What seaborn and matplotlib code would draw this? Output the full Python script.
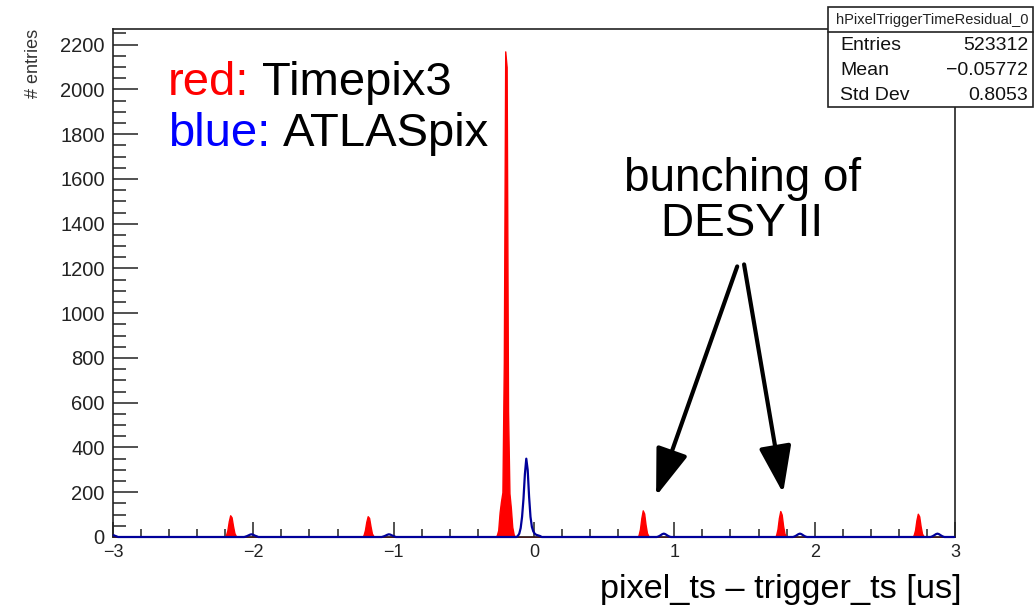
import numpy as np
import pandas as pd
import matplotlib
matplotlib.use("Agg")
import matplotlib.pyplot as plt
from matplotlib.patches import Rectangle
from matplotlib.lines import Line2D
import seaborn as sns

sns.set_style("ticks")
plt.rcParams['font.family'] = ['Liberation Sans', 'DejaVu Sans']
plt.rcParams['text.color'] = 'black'

# bin centres (us) and entries of the non-empty bins
red_x = [-2.195, -2.185, -2.175, -2.165, -2.155, -2.145, -2.135, -2.125,
         -1.215, -1.205, -1.195, -1.185, -1.175, -1.165, -1.155, -1.145,
         -0.265, -0.255, -0.245, -0.235, -0.225, -0.215, -0.205, -0.195,
         -0.185, -0.175, -0.165, -0.155, -0.145,
         0.745, 0.755, 0.765, 0.775, 0.785, 0.795, 0.805, 0.815,
         1.725, 1.735, 1.745, 1.755, 1.765, 1.775, 1.785, 1.795,
         2.705, 2.715, 2.725, 2.735, 2.745, 2.755, 2.765, 2.775]
red_n = [8, 30, 70, 97, 88, 50, 18, 5,
         8, 30, 68, 93, 85, 48, 16, 5,
         8, 30, 110, 160, 200, 780, 2170, 2100,
         560, 195, 130, 45, 12,
         8, 35, 85, 119, 105, 55, 18, 5,
         8, 35, 85, 116, 100, 50, 15, 5,
         8, 30, 75, 104, 92, 48, 15, 5]

blue_x = [-2.995, -2.985, -2.975,
          -2.055, -2.045, -2.035, -2.025, -2.015, -2.005, -1.995, -1.985, -1.975,
          -1.075, -1.065, -1.055, -1.045, -1.035, -1.025, -1.015, -1.005, -0.995,
          -0.115, -0.105, -0.095, -0.085, -0.075, -0.065, -0.055, -0.045,
          -0.035, -0.025, -0.015, -0.005, 0.005, 0.015, 0.025, 0.035, 0.045,
          0.885, 0.895, 0.905, 0.915, 0.925, 0.935, 0.945, 0.955, 0.965,
          1.855, 1.865, 1.875, 1.885, 1.895, 1.905, 1.915, 1.925, 1.935,
          2.835, 2.845, 2.855, 2.865, 2.875, 2.885, 2.895, 2.905, 2.915]
blue_n = [8, 5, 3,
          2, 4, 7, 10, 12, 11, 8, 5, 3,
          2, 4, 7, 10, 12, 11, 8, 5, 3,
          5, 15, 40, 90, 170, 280, 350, 300,
          180, 90, 45, 25, 15, 10, 8, 6, 4,
          2, 5, 9, 13, 15, 13, 9, 5, 2,
          2, 5, 9, 13, 15, 13, 9, 5, 2,
          2, 5, 9, 13, 15, 13, 9, 5, 2]

stats_title = "hPixelTriggerTimeResidual_0"
stats_rows = [("Entries", "523312"), ("Mean", "\u22120.05772"), ("Std Dev", "0.8053")]

red_df = pd.DataFrame({"t": red_x, "n": red_n})
blue_df = pd.DataFrame({"t": blue_x, "n": blue_n})

fig = plt.figure(figsize=(10.35, 6.07), dpi=100)
ax = fig.add_axes([113 / 1035, 1 - 537 / 607, 842 / 1035, 508 / 607])

sns.histplot(data=red_df, x="t", weights="n", binwidth=0.01, binrange=(-3, 3),
             element="poly", fill=True, color="red", edgecolor="red", alpha=1,
             linewidth=1, ax=ax)
sns.histplot(data=blue_df, x="t", weights="n", binwidth=0.01, binrange=(-3, 3),
             element="poly", fill=False, color="#00009a", linewidth=1.6, ax=ax)
# let the blue curve sit on top of the bottom frame, as in ROOT
ax.lines[-1].set_zorder(3)
ax.lines[-1].set_clip_on(False)

ax.set_xlim(-3, 3)
ax.set_ylim(0, 2270)
ax.set_xticks(np.arange(-3, 3.1, 1))
ax.set_xticks(np.arange(-3, 3.01, 0.2), minor=True)
ax.set_yticks(np.arange(0, 2201, 200))
ax.set_yticks(np.arange(0, 2251, 50), minor=True)
ax.tick_params(axis='both', which='both', direction='in', color='#222222',
               width=1.1, labelcolor='#222222')
ax.tick_params(axis='y', which='major', length=18, labelsize=14.5, pad=6)
ax.tick_params(axis='y', which='minor', length=9)
ax.tick_params(axis='x', which='major', length=11, labelsize=13, pad=5)
ax.tick_params(axis='x', which='minor', length=5.5)
for sp in ax.spines.values():
    sp.set_color('#222222')
    sp.set_linewidth(1.2)

ax.set_ylabel("# entries", loc='top', fontsize=13, color='#333333')
ax.yaxis.set_label_coords(-0.084, 1.0)
ax.set_xlabel("pixel_ts \u2013 trigger_ts [us]", fontsize=24.7, color='black')
ax.xaxis.label.set_ha('right')
ax.xaxis.label.set_va('baseline')
ax.xaxis.set_label_coords(1.0083, -0.12)

# colour key written as text
t1 = ax.text(-2.608, 1977, "red:", color='#ff0000', fontsize=34, va='baseline')
ax.annotate("Timepix3", xy=(1, 0), xycoords=t1, xytext=(9, 0),
            textcoords='offset points', fontsize=34, color='black', va='bottom')
t2 = ax.text(-2.608, 1745, "blue:", color='#0000ff', fontsize=34, va='baseline')
ax.annotate("ATLASpix", xy=(1, 0), xycoords=t2, xytext=(9, 0),
            textcoords='offset points', fontsize=34, color='black', va='bottom')

# bunching annotation
ax.text(1.489, 1544, "bunching of", fontsize=33, ha='center', va='baseline',
        color='black')
ax.text(1.482, 1347, "DESY II", fontsize=33, ha='center', va='baseline',
        color='black')
arrow_kw = dict(arrowstyle="-|>,head_length=1.45,head_width=0.5", lw=3,
                color='black', mutation_scale=20, shrinkA=0, shrinkB=0)
ax.annotate("", xy=(0.870, 183), xytext=(1.448, 1209), arrowprops=arrow_kw)
ax.annotate("", xy=(1.775, 196), xytext=(1.497, 1218), arrowprops=arrow_kw)

# ROOT-like statistics box
fig.add_artist(Rectangle((828 / 1035, 1 - 107 / 607), 205 / 1035, 100 / 607,
                         transform=fig.transFigure, facecolor='white',
                         edgecolor='#222222', linewidth=1.2, zorder=5))
fig.add_artist(Line2D([828 / 1035, 1033 / 1035], [1 - 32 / 607, 1 - 32 / 607],
                      transform=fig.transFigure, color='#222222', lw=1.2, zorder=6))
fig.text(932 / 1035, 1 - 20 / 607, stats_title, fontsize=10.5, ha='center',
         va='center', zorder=7, color='#222222')
for i, (name, val) in enumerate(stats_rows):
    yy = 1 - (46 + 24.5 * i) / 607
    fig.text(840 / 1035, yy, name, fontsize=14, ha='left', va='center',
             zorder=7, color='#111111')
    fig.text(1028 / 1035, yy, val, fontsize=14, ha='right', va='center',
             zorder=7, color='#111111')

fig.savefig("out.png", dpi=100)
